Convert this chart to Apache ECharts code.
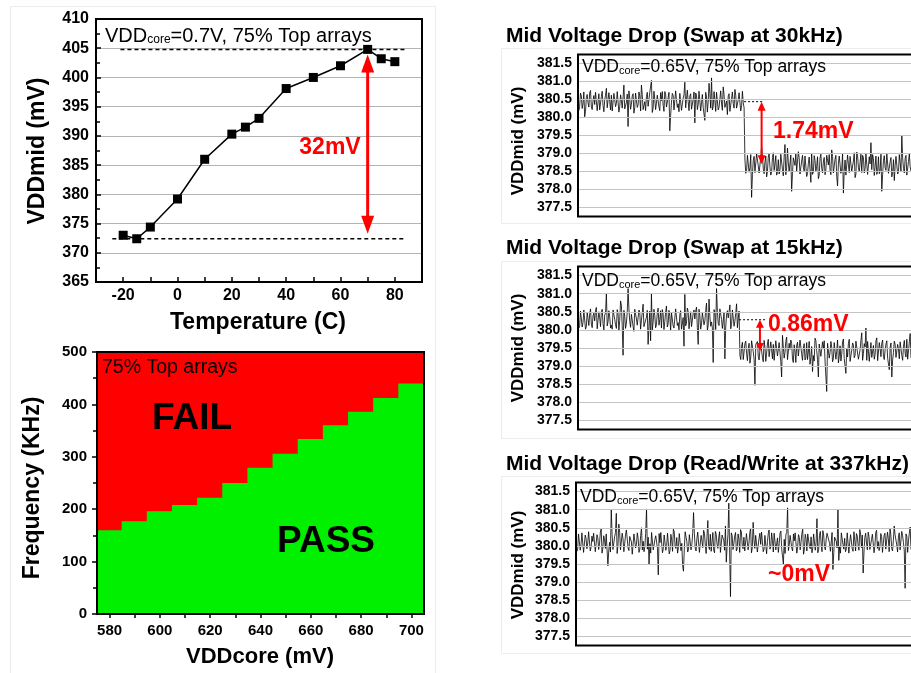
<!DOCTYPE html>
<html>
<head>
<meta charset="utf-8">
<script src="https://cdn.jsdelivr.net/npm/echarts@6/dist/echarts.min.js"></script>
<style>
  html, body { margin: 0; padding: 0; background: #fff; }
  #chart { width: 911px; height: 673px; }
</style>
</head>
<body>
<div id="chart"></div>
<script>
// ---- Temperature sweep (VDDcore = 0.7 V) ----
const temps  = [-20, -15, -10, 0, 10, 20, 25, 30, 40, 50, 60, 70, 75, 80];
const vddMid = [373.0, 372.4, 374.4, 379.2, 386.0, 390.3, 391.5, 393.0, 398.1, 400.0, 402.0, 404.8, 403.2, 402.7];

// ---- Shmoo: highest passing frequency per VDDcore step ----
const vddCore  = ['580', '590', '600', '610', '620', '630', '640', '650', '660', '670', '680', '690', '700'];
const passFreq = [160, 177, 196, 208, 222, 250, 279, 306, 334, 360, 386, 412, 440];

// ---- Mid-rail traces (mV), VDDcore = 0.65 V ----
// Each trace is stored as even samples and the odd samples that fall between them.
const trace30kEven = [
  380.52,380.31,380.60,380.38,380.02,380.55,380.41,380.68,380.29,380.47,
  380.36,380.74,380.44,380.21,380.58,380.33,380.49,380.81,380.27,380.45,
  380.62,380.18,380.50,380.39,380.71,380.30,380.46,380.57,380.24,380.42,
  379.75,380.53,380.37,380.66,380.28,380.48,380.35,380.60,380.90,380.22,
  380.44,380.58,380.31,380.69,381.03,380.26,380.50,380.40,380.63,380.19,
  380.47,380.34,380.72,380.29,380.55,379.63,380.43,380.61,380.25,380.49,
  380.38,380.67,380.20,380.54,380.98,380.32,380.45,380.59,380.23,380.51,
  379.85,380.62,380.36,380.75,380.41,380.27,379.92,380.57,380.44,380.66,
  381.10,380.30,380.48,380.70,380.21,380.52,380.37,380.85,380.28,380.46,
  380.60,380.17,380.53,380.39,380.78,380.26,380.49,380.64,380.33,380.41,
  378.85,378.52,378.94,378.61,377.78,378.80,378.47,378.99,378.66,378.42,
  379.20,378.58,378.77,378.35,378.90,378.63,378.49,379.02,378.71,378.40,
  378.83,378.55,378.97,378.38,379.25,378.60,378.74,378.45,377.95,378.88,
  378.67,378.51,379.05,378.43,378.79,378.62,378.93,378.36,378.72,378.56,
  379.01,378.48,378.81,378.64,378.30,378.87,378.59,378.76,378.41,378.95,
  378.68,378.53,379.10,378.46,378.84,378.37,378.73,378.98,378.57,377.90,
  378.82,378.44,378.70,378.92,378.50,378.79,378.33,379.04,378.61,378.75,
  378.47,378.89,378.58,378.96,378.39,378.71,378.55,378.86,378.64,378.42,
  378.91,378.52,377.95,378.80,378.60,379.00,378.45,378.77,378.35,378.83,
  378.66,378.93,378.49,378.74,379.50,378.58,378.87,378.40,378.78,378.63
];
const trace30kOdd = [
  380.20,380.68,380.25,380.71,380.17,380.64,380.29,380.75,380.22,380.61,
  380.70,380.19,380.66,380.24,380.73,380.16,380.62,380.27,380.69,380.21,
  380.18,380.67,380.30,380.72,380.15,380.63,380.26,380.90,380.20,380.65,
  380.74,380.23,380.60,380.12,380.68,380.28,380.71,380.18,380.64,380.25,
  380.19,380.70,380.26,380.66,380.14,380.73,380.22,380.62,380.29,380.69,
  380.72,380.17,380.65,380.24,380.70,380.05,380.67,380.21,380.74,380.28,
  380.16,380.69,380.23,380.63,380.27,380.76,380.19,380.66,380.25,380.71,
  380.68,380.22,380.73,380.18,380.64,380.30,380.70,380.15,380.95,380.26,
  380.21,380.72,380.17,380.67,380.28,380.74,380.20,380.63,380.24,380.08,
  380.66,380.19,380.71,380.26,380.62,380.22,380.69,380.18,380.73,380.27,
  378.45,378.95,378.48,378.97,378.42,378.92,378.52,379.00,378.46,378.90,
  378.96,378.44,378.93,378.50,378.99,378.40,378.89,378.53,378.94,378.47,
  378.43,378.98,378.55,378.91,378.41,379.15,378.49,378.96,378.45,378.92,
  378.99,378.47,378.88,378.38,378.95,378.51,378.97,378.44,378.90,378.20,
  378.42,378.94,378.50,378.91,378.39,378.98,378.46,378.89,378.54,378.96,
  378.97,378.41,378.92,378.48,378.95,378.10,378.93,378.45,379.00,378.52,
  378.40,378.96,378.47,378.90,378.51,379.02,378.43,378.94,378.49,378.98,
  378.95,378.46,378.99,378.42,378.91,379.30,378.97,378.39,378.93,378.50,
  378.44,378.98,378.41,378.94,378.53,379.00,378.45,378.89,378.48,378.25,
  378.92,378.43,378.97,378.50,378.88,378.46,378.95,378.42,378.99,378.51
];
const trace15kEven = [
  380.35,380.12,380.47,380.20,380.58,380.09,380.31,380.44,380.16,380.39,
  380.25,380.62,380.07,380.33,380.50,380.18,380.41,381.00,380.22,380.36,
  380.13,380.55,380.29,380.04,380.46,380.26,380.68,379.30,380.38,380.19,
  381.14,380.24,380.43,380.10,380.57,380.30,380.15,380.49,380.27,380.71,
  380.08,380.35,379.60,380.52,381.00,380.21,380.40,380.14,380.60,380.28,
  380.05,380.44,380.23,380.66,380.17,380.37,380.48,380.11,380.32,380.56,
  380.20,380.42,380.02,380.34,380.98,380.19,380.51,380.26,380.09,380.45,
  380.30,380.63,379.60,380.39,380.16,380.53,380.25,380.74,380.12,380.36,
  380.22,379.10,380.47,381.14,380.18,380.58,380.29,380.06,379.20,380.41,
  380.33,380.69,380.15,380.50,380.24,380.72,380.31,
  379.30,379.55,379.18,379.62,379.35,379.48,379.08,379.70,379.40,378.47,
  379.58,379.27,379.45,379.66,379.12,379.51,379.36,379.74,379.22,379.44,
  379.60,379.15,379.49,379.31,379.68,378.70,379.53,379.38,379.80,379.20,
  379.46,379.63,379.10,379.42,379.57,379.28,379.72,379.34,379.50,379.17,
  379.65,379.39,379.05,379.54,379.29,379.77,379.43,378.70,379.59,379.25,
  379.47,379.14,378.30,379.61,379.37,379.52,379.21,379.69,379.41,379.09,
  379.56,379.33,379.75,379.26,379.48,379.62,379.13,379.44,379.58,379.30,
  379.71,379.19,379.45,379.92,379.35,379.53,379.16,379.66,379.40,379.24,
  379.57,379.32,379.78,379.11,379.49,379.63,379.27,379.46,379.70,379.20,
  379.52,378.70,379.38,379.60,379.23,379.47,379.67,379.29,379.55,379.36,
  379.74,379.42,379.90
];
const trace15kOdd = [
  380.05,380.52,380.08,380.55,380.02,380.49,380.12,380.58,380.06,380.46,
  380.54,380.03,380.50,380.09,380.57,380.00,380.47,380.11,380.53,380.05,
  380.02,380.51,380.14,380.56,379.98,380.80,380.10,380.54,380.04,380.49,
  380.58,380.07,380.45,379.96,380.52,380.13,380.55,380.02,380.48,380.09,
  380.04,380.54,380.10,379.70,380.00,380.57,380.06,380.47,380.13,380.53,
  380.56,380.01,380.49,380.08,380.54,379.98,380.51,380.05,380.58,380.12,
  380.00,380.53,380.07,379.55,380.11,380.60,380.03,380.50,380.09,380.55,
  380.52,380.06,380.57,380.02,380.48,380.14,380.54,379.99,380.85,380.10,
  380.05,380.56,380.01,380.51,380.12,380.58,380.04,380.47,380.08,380.53,
  380.50,380.03,380.55,380.10,380.46,380.06,380.52,
  379.18,379.66,379.21,379.69,379.15,379.63,379.25,379.72,379.19,379.60,
  379.68,379.17,379.64,379.23,379.71,379.13,379.61,379.26,379.67,379.20,
  379.16,379.70,379.28,379.65,379.12,379.85,379.22,379.68,379.18,379.63,
  379.72,379.20,379.59,379.10,379.66,379.24,379.69,379.16,379.62,379.23,
  379.18,379.68,379.24,378.85,379.14,379.71,379.19,379.61,379.27,379.67,
  379.70,379.15,379.63,379.22,379.68,379.12,379.65,379.19,379.72,379.26,
  379.14,379.67,379.21,378.80,379.25,379.74,379.17,379.64,379.23,379.69,
  379.66,379.20,379.71,379.16,379.62,380.05,379.68,379.13,379.65,379.24,
  379.19,379.70,379.15,379.65,379.26,379.72,379.18,379.61,379.22,378.90,
  379.64,379.17,379.69,379.24,379.60,379.20,379.66,379.16,379.71,379.25,
  379.19,379.67,379.22
];
const trace337kEven = [
  380.15,379.92,380.28,380.03,380.36,379.85,380.20,380.08,380.41,379.97,
  380.12,380.30,379.88,380.22,380.05,380.47,379.94,380.17,380.33,379.45,
  380.10,381.00,379.90,380.25,380.90,380.02,380.38,379.86,380.19,380.07,
  380.44,379.95,380.26,380.11,379.80,380.34,380.04,380.21,379.91,380.50,
  380.13,379.98,381.02,380.24,380.06,380.37,379.89,380.18,380.29,379.20,
  380.09,380.42,379.93,380.27,380.01,380.35,379.87,380.16,380.46,380.00,
  380.23,379.96,380.31,380.07,379.30,380.39,380.12,379.90,380.26,380.04,
  380.92,379.94,380.20,380.36,379.84,380.14,380.43,380.02,380.25,379.97,
  380.32,380.10,379.88,380.40,380.05,380.22,379.82,380.30,380.15,380.55,
  379.99,381.18,378.60,380.28,380.06,380.37,379.92,380.19,380.45,380.01,
  380.24,379.87,380.33,380.08,380.48,379.95,380.17,380.29,379.83,380.21,
  380.04,380.39,379.91,380.26,380.12,380.44,379.98,380.15,380.35,379.89,
  380.22,380.06,380.41,379.93,380.18,380.31,381.05,380.03,380.27,379.86,
  380.14,380.38,379.97,380.23,380.09,380.46,379.90,380.20,380.33,380.00,
  380.25,379.94,380.37,380.11,379.81,380.29,380.05,380.42,379.96,380.19,
  380.32,380.07,379.88,379.35,380.24,380.13,381.00,379.99,380.36,380.04,
  380.21,379.92,380.40,380.10,380.27,379.85,380.16,380.34,380.02,380.45,
  379.95,379.25,380.23,380.08,380.38,379.90,380.18,380.30,380.01,380.43,
  380.12,379.97,380.26,380.06,380.35,379.87,380.20,380.49,379.93,380.15,
  380.31,380.03,380.24,379.89,380.40,380.09,378.83,380.27,380.14,380.52
];
const trace337kOdd = [
  379.85,380.33,379.88,380.36,379.82,380.30,379.92,380.39,379.86,380.27,
  380.35,379.84,380.31,379.90,380.38,379.80,380.28,379.93,380.34,379.86,
  379.83,380.32,379.95,380.37,379.79,380.60,379.89,380.35,379.84,380.30,
  380.39,379.87,380.26,379.77,380.33,379.94,380.36,379.82,380.29,379.89,
  379.84,380.35,379.91,379.50,379.80,380.38,379.86,380.28,379.94,380.34,
  380.37,379.81,380.30,379.88,380.35,379.78,380.32,379.85,380.39,379.93,
  379.80,380.34,379.87,379.45,379.91,380.41,379.83,380.31,379.89,380.36,
  380.33,379.86,380.38,379.82,380.29,379.95,380.35,379.79,380.70,379.90,
  379.85,380.37,379.81,380.32,379.93,380.39,379.84,380.28,379.88,379.55,
  380.31,379.83,380.36,379.90,380.27,379.86,380.33,379.82,380.38,379.92,
  379.86,380.34,379.89,380.37,379.81,380.65,379.93,380.30,379.85,380.35,
  380.38,379.84,380.29,379.78,380.34,379.91,380.36,379.83,380.31,379.88,
  379.82,380.35,379.92,379.50,379.79,380.37,379.87,380.29,379.94,380.33,
  380.36,379.80,380.31,379.89,380.34,379.77,380.32,379.86,380.38,379.92,
  379.81,380.33,379.88,380.75,379.90,380.40,379.84,380.30,379.89,380.35,
  380.32,379.85,380.37,379.81,380.28,379.94,379.60,379.80,380.34,379.91,
  379.84,380.36,379.80,380.31,379.92,380.39,379.86,380.27,379.88,380.33,
  380.30,379.83,380.35,379.89,380.26,379.85,380.32,379.81,380.37,379.93,
  379.87,380.34,379.82,380.29,379.91,380.38,379.84,380.30,379.86,380.55,
  380.31,379.83,380.36,379.88,380.28,379.86,380.33,379.82,380.35,379.90
];

// Mean levels before / after the swap (mV) and last sample before the swap
const levels30k = [380.44, 378.70];
const levels15k = [380.28, 379.42];
const swapIndex30k = 199;
const swapIndex15k = 193;

// Y tick values of the trace panels
const midTicks = [377.5, 378.0, 378.5, 379.0, 379.5, 380.0, 380.5, 381.0, 381.5];

const FONT = 'Liberation Sans, Arial, Helvetica, sans-serif';
const RED = '#ff0000';

// Plot boxes (pixels) of the five panels
const boxes = [
  { left: 96,  top: 19,    width: 326, height: 263 },
  { left: 97,  top: 352,   width: 327, height: 262 },
  { left: 578, top: 54.5,  width: 335, height: 162 },
  { left: 578, top: 266.5, width: 335, height: 163 },
  { left: 576, top: 482.5, width: 337, height: 163 }
];

function interleave(even, odd) {
  const out = [];
  for (let i = 0; i < even.length; i++) {
    out.push(even[i]);
    if (i < odd.length) out.push(odd[i]);
  }
  return out;
}
const trace30k = interleave(trace30kEven, trace30kOdd);
const trace15k = interleave(trace15kEven, trace15kOdd);
const trace337k = interleave(trace337kEven, trace337kOdd);
const lastIndex = trace30k.length - 1;

const peak = Math.max(...vddMid);
const low = Math.min(...vddMid);
const peakT = temps[vddMid.indexOf(peak)];

// Double-headed arrow drawn between two y values at one x
function arrowRenderer(headW, headL, lineW, inset) {
  return function (params, api) {
    const x = api.value(0);
    const a = api.coord([x, api.value(1)]);
    const b = api.coord([x, api.value(2)]);
    const cx = a[0];
    const top = Math.min(a[1], b[1]) + inset;
    const bot = Math.max(a[1], b[1]) - inset;
    return {
      type: 'group',
      children: [
        { type: 'line', shape: { x1: cx, y1: top + headL - 1, x2: cx, y2: bot - headL + 1 },
          style: { stroke: RED, lineWidth: lineW } },
        { type: 'polygon', shape: { points: [[cx, top], [cx - headW / 2, top + headL], [cx + headW / 2, top + headL]] },
          style: { fill: RED } },
        { type: 'polygon', shape: { points: [[cx, bot], [cx - headW / 2, bot - headL], [cx + headW / 2, bot - headL]] },
          style: { fill: RED } }
      ]
    };
  };
}

function isHalf(v) { return Math.abs(v * 2 - Math.round(v * 2)) < 1e-6; }

function midYAxis(gridIndex) {
  return {
    type: 'value', gridIndex: gridIndex, min: 377.25, max: 381.75, interval: 0.25,
    axisLine: { show: false, onZero: false }, axisTick: { show: false },
    splitLine: { show: false },
    axisLabel: {
      margin: 6, color: '#000', fontFamily: FONT, fontWeight: 'bold', fontSize: 14,
      formatter: function (v) { return (isHalf(v) && v > 377.3 && v < 381.7) ? v.toFixed(1) : ''; }
    }
  };
}
function midXAxis(gridIndex) {
  return { type: 'value', gridIndex: gridIndex, min: 0, max: lastIndex, show: false, axisLine: { onZero: false } };
}
function gridLines(xi) {
  return {
    type: 'line', xAxisIndex: xi, yAxisIndex: xi, data: [], silent: true,
    markLine: {
      silent: true, symbol: 'none', animation: false, label: { show: false },
      lineStyle: { color: '#c4c4c4', width: 1, type: 'solid' },
      data: midTicks.map(function (t) { return { yAxis: t }; })
    }
  };
}
function traceSeries(xi, arr) {
  return {
    type: 'line', xAxisIndex: xi, yAxisIndex: xi, showSymbol: false, sampling: 'none',
    silent: true, z: 3,
    lineStyle: { color: '#000', width: 0.8 },
    data: arr.map(function (v, i) { return [i, v]; })
  };
}

function subText(x, y, main1, rest, size, subSize) {
  return {
    type: 'text', x: x, y: y, z: 120,
    style: {
      text: '{a|' + main1 + '}{s|core}{a|' + rest + '}',
      verticalAlign: 'middle', align: 'left',
      rich: {
        a: { fontFamily: FONT, fontSize: size, fill: '#000' },
        s: { fontFamily: FONT, fontSize: subSize, fill: '#000', verticalAlign: 'bottom' }
      }
    }
  };
}
function label(x, y, text, opts) {
  const o = opts || {};
  return {
    type: 'text', x: x, y: y, z: 120, rotation: o.rotation || 0,
    style: {
      text: text, fontFamily: FONT, fontSize: o.size || 20, fontWeight: o.weight || 'normal',
      fill: o.color || '#000', align: o.align || 'center', verticalAlign: 'middle'
    }
  };
}
function frame(b) {
  return {
    type: 'rect', z: 110, silent: true,
    shape: { x: b.left, y: b.top, width: b.width, height: b.height },
    style: { fill: 'none', stroke: '#000', lineWidth: 2 }
  };
}
function faint(x1, y1, x2, y2) {
  return { type: 'line', z: 1, silent: true, shape: { x1: x1, y1: y1, x2: x2, y2: y2 },
           style: { stroke: '#ececec', lineWidth: 1 } };
}

const chart = echarts.init(document.getElementById('chart'), null, { renderer: 'canvas' });

const option = {
  animation: false,
  backgroundColor: '#fff',
  grid: boxes.map(function (b, i) {
    const g = { left: b.left, top: b.top, width: b.width, height: b.height, containLabel: false };
    if (i === 1) { g.show = true; g.backgroundColor = RED; g.borderWidth = 0; }
    return g;
  }),
  xAxis: [
    {
      type: 'value', gridIndex: 0, min: -30, max: 90, interval: 10,
      axisLine: { show: false, onZero: false },
      axisTick: { inside: true, length: 5, lineStyle: { color: '#000', width: 1.5 } },
      splitLine: { show: false },
      axisLabel: {
        margin: 6, color: '#000', fontFamily: FONT, fontWeight: 'bold', fontSize: 16,
        formatter: function (v) { return (v % 20 === 0 && v >= -20 && v <= 80) ? String(v) : ''; }
      }
    },
    {
      type: 'category', gridIndex: 1, data: vddCore, boundaryGap: true, z: 5,
      axisLine: { show: false, onZero: false },
      axisTick: { show: true, alignWithLabel: true, interval: 0, length: 4, lineStyle: { color: '#000', width: 1.5 } },
      axisLabel: { interval: 1, margin: 9, color: '#000', fontFamily: FONT, fontWeight: 'bold', fontSize: 15 }
    },
    midXAxis(2),
    midXAxis(3),
    midXAxis(4)
  ],
  yAxis: [
    {
      type: 'value', gridIndex: 0, min: 365, max: 410, interval: 5,
      axisLine: { show: false, onZero: false },
      axisTick: { inside: true, length: 5, lineStyle: { color: '#000', width: 1.5 } },
      minorTick: { show: true, splitNumber: 2, length: 4, lineStyle: { color: '#000', width: 1.5 } },
      splitLine: { show: true, lineStyle: { color: '#b4b4b4', width: 1 } },
      axisLabel: { margin: 7, color: '#000', fontFamily: FONT, fontWeight: 'bold', fontSize: 16 }
    },
    {
      type: 'value', gridIndex: 1, min: 0, max: 500, interval: 100, z: 5,
      axisLine: { show: false, onZero: false },
      axisTick: { show: true, length: 5, lineStyle: { color: '#000', width: 1.5 } },
      minorTick: { show: true, splitNumber: 2, length: 4, lineStyle: { color: '#000', width: 1.5 } },
      splitLine: { show: false },
      axisLabel: { margin: 10, color: '#000', fontFamily: FONT, fontWeight: 'bold', fontSize: 15 }
    },
    midYAxis(2),
    midYAxis(3),
    midYAxis(4)
  ],
  series: [
    // Temperature sweep
    {
      type: 'line', xAxisIndex: 0, yAxisIndex: 0, z: 4,
      data: temps.map(function (t, i) { return [t, vddMid[i]]; }),
      symbol: 'rect', symbolSize: 9,
      itemStyle: { color: '#000' },
      lineStyle: { color: '#000', width: 1.5 }
    },
    {
      type: 'line', xAxisIndex: 0, yAxisIndex: 0, showSymbol: false, silent: true, z: 3,
      data: [[-21, peak], [84, peak]],
      lineStyle: { color: '#000', width: 1.5, type: [4, 3] }
    },
    {
      type: 'line', xAxisIndex: 0, yAxisIndex: 0, showSymbol: false, silent: true, z: 3,
      data: [[-24, low], [84, low]],
      lineStyle: { color: '#000', width: 1.5, type: [4, 3] }
    },
    {
      type: 'custom', xAxisIndex: 0, yAxisIndex: 0, z: 5, silent: true,
      renderItem: arrowRenderer(13, 18, 3, 5),
      encode: { x: 0, y: [1, 2] },
      data: [[peakT, peak, low]]
    },
    // Shmoo pass region
    {
      type: 'bar', xAxisIndex: 1, yAxisIndex: 1, data: passFreq, silent: true,
      barCategoryGap: '0%', barWidth: '104%',
      itemStyle: { color: '#00f000', borderWidth: 0 }
    },
    // Trace panels
    gridLines(2), gridLines(3), gridLines(4),
    traceSeries(2, trace30k),
    traceSeries(3, trace15k),
    traceSeries(4, trace337k),
    {
      type: 'line', xAxisIndex: 2, yAxisIndex: 2, showSymbol: false, silent: true, z: 4,
      data: [[swapIndex30k, levels30k[0]], [swapIndex30k + 24, levels30k[0]]],
      lineStyle: { color: '#000', width: 1, type: [2, 2] }
    },
    {
      type: 'custom', xAxisIndex: 2, yAxisIndex: 2, z: 5, silent: true,
      renderItem: arrowRenderer(8, 9, 2, 0),
      encode: { x: 0, y: [1, 2] },
      data: [[swapIndex30k + 21, levels30k[0], levels30k[1]]]
    },
    {
      type: 'line', xAxisIndex: 3, yAxisIndex: 3, showSymbol: false, silent: true, z: 4,
      data: [[swapIndex15k, levels15k[0]], [swapIndex15k + 32, levels15k[0]]],
      lineStyle: { color: '#000', width: 1, type: [2, 2] }
    },
    {
      type: 'custom', xAxisIndex: 3, yAxisIndex: 3, z: 5, silent: true,
      renderItem: arrowRenderer(8, 8, 2, 0),
      encode: { x: 0, y: [1, 2] },
      data: [[swapIndex15k + 25, levels15k[0], levels15k[1]]]
    }
  ],
  graphic: [
    // faint panel edges
    faint(10.5, 6.5, 10.5, 673), faint(435.5, 6.5, 435.5, 673), faint(10.5, 6.5, 435.5, 6.5),
    faint(501.5, 48.5, 501.5, 223.5), faint(501.5, 48.5, 911, 48.5), faint(501.5, 223.5, 911, 223.5),
    faint(501.5, 261.5, 501.5, 438.5), faint(501.5, 261.5, 911, 261.5), faint(501.5, 438.5, 911, 438.5),
    faint(501.5, 476.5, 501.5, 653.5), faint(501.5, 476.5, 911, 476.5), faint(501.5, 653.5, 911, 653.5),
    // plot frames
    frame(boxes[0]), frame(boxes[1]), frame(boxes[2]), frame(boxes[3]), frame(boxes[4]),
    // temperature panel text
    subText(105, 36, 'VDD', '=0.7V, 75% Top arrays', 20, 12),
    label(330, 148, '32mV', { size: 23, weight: 'bold', color: RED }),
    label(38, 151, 'VDDmid (mV)', { size: 23, weight: 'bold', rotation: Math.PI / 2 }),
    label(258, 323, 'Temperature (C)', { size: 23, weight: 'bold' }),
    // shmoo panel text
    label(102, 368, '75% Top arrays', { size: 19.5, align: 'left' }),
    label(192, 419, 'FAIL', { size: 37, weight: 'bold' }),
    label(326, 542, 'PASS', { size: 37, weight: 'bold' }),
    label(33, 488, 'Frequency (KHz)', { size: 23, weight: 'bold', rotation: Math.PI / 2 }),
    label(260, 657, 'VDDcore (mV)', { size: 22, weight: 'bold' }),
    // trace panel titles
    label(506, 36.5, 'Mid Voltage Drop (Swap at 30kHz)', { size: 21, weight: 'bold', align: 'left' }),
    label(506, 248.5, 'Mid Voltage Drop (Swap at 15kHz)', { size: 21, weight: 'bold', align: 'left' }),
    label(506, 464, 'Mid Voltage Drop (Read/Write at 337kHz)', { size: 21, weight: 'bold', align: 'left' }),
    subText(582, 67, 'VDD', '=0.65V, 75% Top arrays', 17.5, 11),
    subText(582, 281.5, 'VDD', '=0.65V, 75% Top arrays', 17.5, 11),
    subText(580, 497, 'VDD', '=0.65V, 75% Top arrays', 17.5, 11),
    label(518, 141, 'VDDmid (mV)', { size: 17, weight: 'bold', rotation: Math.PI / 2 }),
    label(518, 348, 'VDDmid (mV)', { size: 17, weight: 'bold', rotation: Math.PI / 2 }),
    label(518, 565, 'VDDmid (mV)', { size: 17, weight: 'bold', rotation: Math.PI / 2 }),
    label(773, 131.7, '1.74mV', { size: 23, weight: 'bold', color: RED, align: 'left' }),
    label(768, 325, '0.86mV', { size: 23, weight: 'bold', color: RED, align: 'left' }),
    label(768, 575, '~0mV', { size: 23, weight: 'bold', color: RED, align: 'left' })
  ]
};

chart.setOption(option);
</script>
</body>
</html>
